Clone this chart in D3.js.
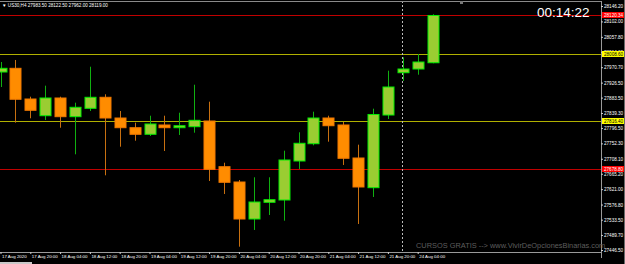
<!DOCTYPE html>
<html>
<head>
<meta charset="utf-8">
<script src="https://cdn.jsdelivr.net/npm/d3@7"></script>
<style>
  body { margin: 0; background: #000; }
  svg { display: block; }
  text { font-family: "Liberation Sans", Arial, sans-serif; }
</style>
</head>
<body>
<svg id="chart"></svg>
<script>
// US30 H4 candles
let timeLabels = ["17 Aug 2020", "17 Aug 20:00", "18 Aug 04:00", "18 Aug 12:00", "18 Aug 20:00",
  "19 Aug 04:00", "19 Aug 12:00", "19 Aug 20:00", "20 Aug 04:00", "20 Aug 12:00",
  "20 Aug 20:00", "21 Aug 04:00", "21 Aug 12:00", "21 Aug 20:00", "24 Aug 04:00"];

let opens  = [27956.9, 27967.5, 27879.5, 27831.6, 27882.4, 27828.8, 27852.8, 27884.4, 27825.0, 27797.2,
              27778.3, 27805.0, 27797.2, 27800.1, 27816.4, 27685.4, 27641.5, 27535.4, 27583.3, 27589.9,
              27701.7, 27751.3, 27825.0, 27805.0, 27710.3, 27625.2, 27833.6, 27954.9, 27965.5, 27983.5];
let highs  = [27985.6, 27991.4, 27886.1, 27917.7, 27886.1, 27868.9, 27972.1, 27893.0, 27845.1, 27811.6,
              27831.6, 27831.6, 27840.2, 27920.5, 27871.8, 27696.8, 27647.2, 27655.0, 27655.0, 27731.3,
              27784.0, 27843.1, 27831.6, 27813.6, 27748.5, 27851.7, 27960.7, 27999.1, 28008.6, 28122.5];
let lows   = [27913.9, 27811.6, 27824.2, 27819.3, 27797.2, 27720.9, 27845.1, 27660.7, 27742.7, 27759.9,
              27773.4, 27730.4, 27776.3, 27782.9, 27644.4, 27607.1, 27456.0, 27503.9, 27546.9, 27530.5,
              27678.8, 27746.7, 27757.1, 27690.3, 27521.1, 27598.5, 27822.2, 27931.1, 27949.2, 27981.9];
let closes = [27967.5, 27878.7, 27847.1, 27882.4, 27828.8, 27855.7, 27884.4, 27825.0, 27797.2, 27778.3,
              27807.8, 27797.2, 27802.9, 27818.4, 27677.9, 27640.6, 27535.4, 27584.1, 27590.7, 27704.6,
              27752.5, 27825.0, 27802.9, 27709.5, 27627.2, 27835.1, 27913.9, 27965.5, 27985.6, 28119.0];

let priceTicks = ["28146.20", "28102.00", "28057.80", "28014.60", "27970.70", "27926.50", "27883.50",
  "27839.30", "27796.50", "27752.30", "27708.10", "27665.20", "27621.00", "27576.80", "27533.50",
  "27489.70", "27446.50"];

// horizontal levels and their tags on the price scale
let levels      = [28120.34, 28008.60, 27816.40, 27678.80];
let levelColors = ["#c00000", "#b0b000", "#b0b000", "#c00000"];
let tagColors   = ["#ff0000", "#ffff00", "#ffff00", "#ff0000"];
let tagText     = ["#ffffff", "#000000", "#000000", "#ffffff"];

let header = "\u25BC US30,H4  27983.50 28122.50 27962.00 28119.00";

let W = 625, H = 264;
let plotR = 601, plotT = 1, plotB = 252;

let svg = d3.select("#chart").attr("width", W).attr("height", H);
svg.append("rect").attr("width", W).attr("height", H).attr("fill", "#000");

let y = d3.scaleLinear().domain([27446.5, 28146.2]).range([250, 6]);
let x = d3.scaleLinear().domain([0, 29]).range([0.5, 432.6]);

svg.append("clipPath").attr("id", "plot")
  .append("rect").attr("x", 0).attr("y", plotT).attr("width", plotR).attr("height", plotB - plotT);

let g = svg.append("g").attr("clip-path", "url(#plot)");

// level lines
g.selectAll(".lvl").data(levels).enter().append("line")
  .attr("x1", 0).attr("x2", plotR)
  .attr("y1", d => Math.round(y(d)) + 0.5).attr("y2", d => Math.round(y(d)) + 0.5)
  .attr("stroke", (d, i) => levelColors[i]).attr("stroke-width", 1);

// vertical dotted separator
g.append("line")
  .attr("x1", 402.5).attr("x2", 402.5).attr("y1", plotT).attr("y2", plotB)
  .attr("stroke", "#bbbbbb").attr("stroke-dasharray", "2,2");

let idx = d3.range(opens.length);
let up = i => closes[i] >= opens[i];

// wicks
g.selectAll(".wick").data(idx).enter().append("line")
  .attr("x1", i => Math.round(x(i)) + 0.5).attr("x2", i => Math.round(x(i)) + 0.5)
  .attr("y1", i => y(highs[i])).attr("y2", i => y(lows[i]))
  .attr("stroke", i => up(i) ? "#10b010" : "#c87010");

// bodies
g.selectAll(".body").data(idx).enter().append("rect")
  .attr("x", i => Math.round(x(i)) - 5)
  .attr("y", i => y(Math.max(opens[i], closes[i])))
  .attr("width", 11)
  .attr("height", i => Math.max(1.5, Math.abs(y(opens[i]) - y(closes[i]))))
  .attr("fill", i => up(i) ? "#9acd32" : "#ff8c00")
  .attr("stroke", i => up(i) ? "#00ee00" : "#f07800")
  .attr("stroke-width", 1);

// frame
svg.append("line").attr("x1", 0).attr("x2", plotR).attr("y1", plotT + 0.5).attr("y2", plotT + 0.5).attr("stroke", "#8a8a8a");
svg.append("line").attr("x1", 0).attr("x2", plotR + 0.5).attr("y1", plotB + 0.5).attr("y2", plotB + 0.5).attr("stroke", "#9a9a9a");
svg.append("line").attr("x1", plotR + 0.5).attr("x2", plotR + 0.5).attr("y1", plotT).attr("y2", plotB + 6).attr("stroke", "#9a9a9a");
svg.append("line").attr("x1", 624.5).attr("x2", 624.5).attr("y1", 0).attr("y2", H).attr("stroke", "#6a6a6a");
svg.append("rect").attr("x", 460).attr("y", 1).attr("width", 3).attr("height", 3).attr("fill", "#777");
svg.append("rect").attr("x", 0).attr("y", 262).attr("width", 32).attr("height", 2).attr("fill", "#c8c8c8");

// price axis
let yAxis = d3.axisRight(y)
  .tickValues(priceTicks.map(Number))
  .tickFormat((d, i) => priceTicks[i])
  .tickSize(2).tickPadding(1);
let ya = svg.append("g").attr("transform", "translate(" + plotR + ",0)").call(yAxis);
ya.select(".domain").remove();
ya.selectAll("line").attr("stroke", "#cccccc");
ya.selectAll("text").attr("fill", "#ffffff").attr("font-size", "4.6px").attr("font-family", "Liberation Sans, Arial, sans-serif");

// level tags
let tags = svg.append("g");
levels.forEach((v, i) => {
  let yy = y(v);
  tags.append("rect").attr("x", plotR + 1).attr("y", yy - 3).attr("width", 22).attr("height", 6)
    .attr("fill", tagColors[i]);
  tags.append("text").attr("x", plotR + 3).attr("y", yy + 1.7).text(v.toFixed(2))
    .attr("fill", tagText[i]).attr("font-size", "4.6px");
});

// time axis
let xAxis = d3.axisBottom(x)
  .tickValues(d3.range(0, 29, 2))
  .tickFormat((d, i) => timeLabels[i])
  .tickSize(2).tickPadding(1);
let xa = svg.append("g").attr("transform", "translate(0," + plotB + ")").call(xAxis);
xa.select(".domain").remove();
xa.selectAll("line").attr("stroke", "#cccccc");
xa.selectAll("text").attr("fill", "#ffffff").attr("font-size", "4.4px")
  .attr("text-anchor", "start").attr("x", 1).attr("font-family", "Liberation Sans, Arial, sans-serif");

// header, clock, watermark
svg.append("text").attr("x", 2).attr("y", 7).text(header)
  .attr("fill", "#ffffff").attr("font-size", "4.6px");

svg.append("text").attr("x", 537).attr("y", 16.8).text("00:14:22")
  .attr("fill", "#ffffff").attr("font-size", "13.5px").attr("font-family", "DejaVu Sans, sans-serif");

svg.append("text").attr("x", 416).attr("y", 248).text("CURSOS GRATIS --> www.VivirDeOpcionesBinarias.com")
  .attr("fill", "#5e5e5e").attr("font-size", "7.4px");
</script>
</body>
</html>
